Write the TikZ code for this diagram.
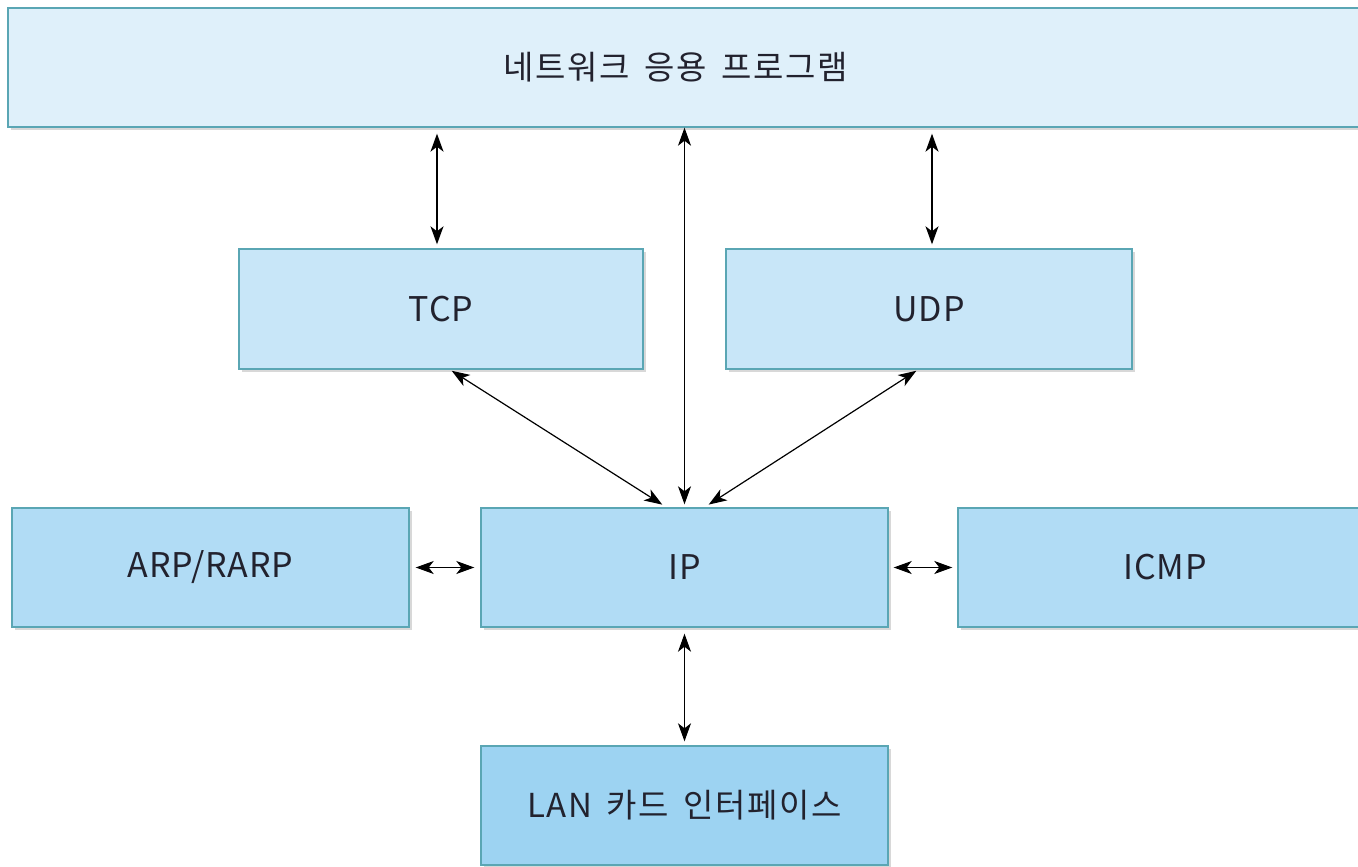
\documentclass[tikz,border=0pt]{standalone}
\usepackage{fontspec}
\setmainfont[LetterSpace=5,WordSpace=1.6]{Noto Sans CJK KR}
\newfontfamily\latinfont[LetterSpace=2.5]{Noto Sans CJK KR}
\usetikzlibrary{arrows.meta,shadows}
\definecolor{bordc}{HTML}{5AA6B4}
\definecolor{fapp}{HTML}{DFF0FA}
\definecolor{ftcp}{HTML}{C8E6F8}
\definecolor{fip}{HTML}{B1DCF5}
\definecolor{flan}{HTML}{9DD3F2}
\definecolor{txtc}{HTML}{22222E}
\tikzset{
  layer/.style={draw=bordc, line width=1.4pt, rectangle, inner sep=0pt,
    font=\fontsize{33}{38}\selectfont, text=txtc,
    drop shadow={shadow xshift=2.5pt, shadow yshift=-3pt, opacity=0.3, fill=gray}},
  latin/.style={font=\latinfont\fontsize{34}{38}\selectfont},
  link/.style={{Stealth[length=18pt,width=13pt,inset=5pt]}-{Stealth[length=18pt,width=13pt,inset=5pt]}, line width=1.2pt, black}
}
\begin{document}
\begin{tikzpicture}[x=1pt,y=1pt]
\useasboundingbox (0,0) rectangle (1358,-867);
\clip (0,0) rectangle (1358,-867);
\fill[white] (0,0) rectangle (1358,-867);
% boxes
\node[layer, fill=fapp, minimum width=1370pt, minimum height=119pt] (app) at (693,-67.5) {};
\node[font=\fontsize{33}{38}\selectfont, text=txtc] (apptext) at (676,-67.5) {네트워크 응용 프로그램};
\node[layer, latin, fill=ftcp, minimum width=404pt, minimum height=120pt] (tcp) at (441,-309) {TCP};
\node[layer, latin, fill=ftcp, minimum width=406pt, minimum height=120pt] (udp) at (929,-309) {UDP};
\node[layer, latin, fill=fip, minimum width=397pt, minimum height=119pt] (arp) at (210.5,-567.5) {ARP/RARP};
\node[layer, latin, fill=fip, minimum width=407pt, minimum height=119pt] (ip) at (684.5,-567.5) {IP};
\node[layer, latin, fill=fip, minimum width=414pt, minimum height=119pt] (icmp) at (1165,-567.5) {ICMP};
\node[layer, fill=flan, minimum width=407pt, minimum height=119pt] (lan) at (684.5,-805.5) {LAN 카드 인터페이스};
% connectors
\draw[link, shorten <=6pt, shorten >=4pt] ([xshift=-4pt]tcp.north |- app.south) -- ([xshift=-4pt]tcp.north);
\draw[link, shorten <=6pt, shorten >=4pt] ([xshift=3pt]udp.north |- app.south) -- ([xshift=3pt]udp.north);
\draw[link, shorten <=0pt, shorten >=3pt] (ip.north |- app.south) -- (ip.north);
\draw[link, shorten <=2pt, shorten >=5pt] ([xshift=9pt]tcp.south) -- ([xshift=-18pt]ip.north);
\draw[link, shorten <=2pt, shorten >=5pt] ([xshift=-11pt]udp.south) -- ([xshift=20pt]ip.north);
\draw[link, shorten <=6pt, shorten >=6pt] (arp.east) -- (ip.west);
\draw[link, shorten <=5pt, shorten >=5pt] (ip.east) -- (icmp.west);
\draw[link, shorten <=6pt, shorten >=4pt] (ip.south) -- (lan.north);
\end{tikzpicture}
\end{document}
